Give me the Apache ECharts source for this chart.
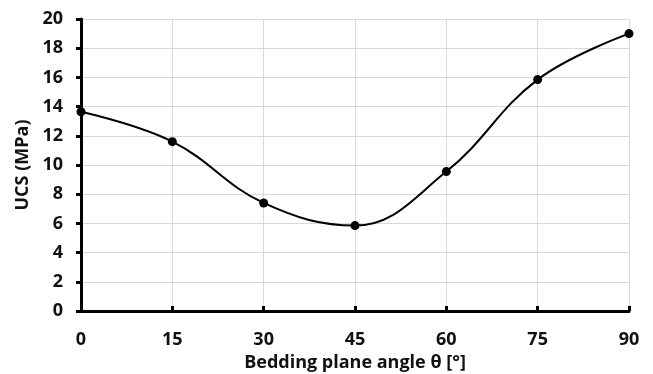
<!DOCTYPE html>
<html><head><meta charset="utf-8">
<script src="https://cdn.jsdelivr.net/npm/echarts@6/dist/echarts.min.js"></script>
<style>html,body{margin:0;padding:0;background:#fff}#c{width:653px;height:374px}</style>
</head><body><div id="c"></div>
<script>
var angles = [0, 15, 30, 45, 60, 75, 90];
var ucs = [13.65, 11.6, 7.4, 5.85, 9.55, 15.85, 19.0];
var xTitle = 'Bedding plane angle θ [°]';
var yTitle = 'UCS (MPa)';
var chart = echarts.init(document.getElementById('c'));
var font = 'Open Sans, Liberation Sans, sans-serif';
chart.setOption({
  animation: false,
  grid: {left: 81, right: 24, top: 19, bottom: 63, containLabel: false, outerBoundsMode: 'none'},
  xAxis: {
    type: 'value', min: 0, max: 90, interval: 15,
    name: xTitle, nameLocation: 'middle', nameGap: 42,
    nameTextStyle: {fontFamily: font, fontWeight: 'bold', fontSize: 18, color: '#111'},
    axisLine: {show: true, lineStyle: {color: '#000', width: 3}},
    axisTick: {show: true, inside: true, length: 5, lineStyle: {color: '#000', width: 3}},
    axisLabel: {fontFamily: font, fontWeight: 'bold', fontSize: 18, color: '#111', margin: 20},
    splitLine: {show: true, lineStyle: {color: '#d9d9d9', width: 1}}
  },
  yAxis: {
    type: 'value', min: 0, max: 20, interval: 2,
    name: yTitle, nameLocation: 'middle', nameGap: 43,
    nameTextStyle: {fontFamily: font, fontWeight: 'bold', fontSize: 18, color: '#111'},
    axisLine: {show: true, lineStyle: {color: '#000', width: 3}},
    axisTick: {show: true, inside: false, length: 5, lineStyle: {color: '#000', width: 3}},
    axisLabel: {fontFamily: font, fontWeight: 'bold', fontSize: 18, color: '#111', margin: 18},
    splitLine: {show: true, lineStyle: {color: '#d9d9d9', width: 1}}
  },
  series: [{
    type: 'line',
    data: angles.map(function (a, i) { return [a, ucs[i]]; }),
    smooth: 0.4,
    symbol: 'circle', symbolSize: 9,
    itemStyle: {color: '#000'},
    lineStyle: {color: '#000', width: 2},
    clip: false
  }]
});
</script></body></html>
